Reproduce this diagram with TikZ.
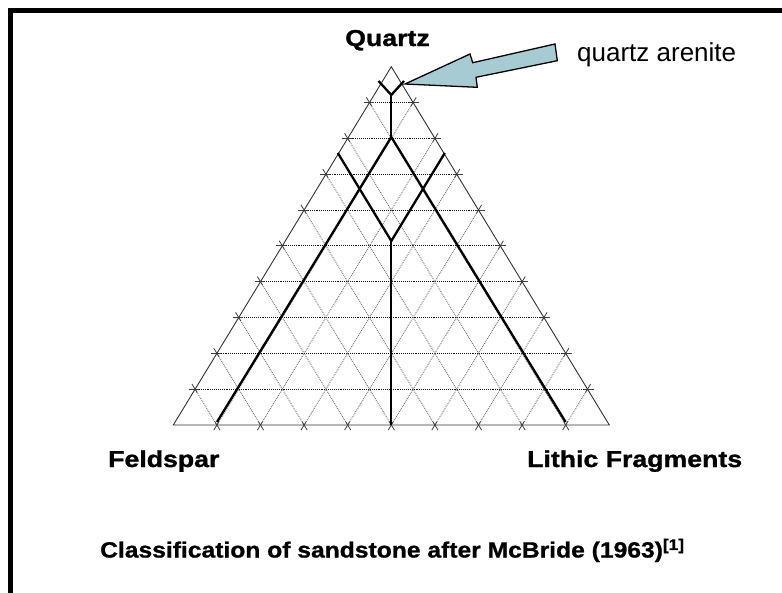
\documentclass[tikz,border=0pt]{standalone}
\usepackage{fontspec}
\setmainfont{Liberation Sans}
\newfontfamily\lblfont[FakeStretch=1.16,FakeBold=1.2]{Liberation Sans}
\newfontfamily\capfont[FakeStretch=1.12,FakeBold=1.0]{Liberation Sans}
\usetikzlibrary{calc}
\definecolor{arrowfill}{HTML}{A7CBD3}
\tikzset{
  edge/.style={draw=black!80, line width=0.9pt},
  hgrid/.style={draw=black!90, line width=0.9pt, densely dotted},
  dgrid/.style={draw=black!55, line width=0.9pt, densely dotted},
  tick/.style={draw=black!75, line width=0.8pt},
  field/.style={draw=black, line width=2.3pt, line join=miter, line cap=butt},
  corner/.style={font=\lblfont\bfseries\fontsize{23}{27}\selectfont, inner sep=0pt},
  note/.style={font=\fontsize{26}{30}\selectfont, inner sep=0pt},
  caption/.style={font=\capfont\bfseries\fontsize{22}{26}\selectfont, inner sep=0pt},
  callout/.style={draw=black, line width=1.3pt, fill=arrowfill, line join=miter}
}
\begin{document}
\begin{tikzpicture}[x=1pt,y=-1pt]
\useasboundingbox (0,0) rectangle (782,592);
\clip (0,0) rectangle (782,592);
\fill[white] (0,0) rectangle (782,592);
% frame
\draw[line width=5pt] (10.4,600) -- (10.4,10.8) -- (790,10.8);
% triangle corners
\coordinate (A) at (391.3,66.7);
\coordinate (F) at (173.3,425);
\coordinate (L) at (609.3,425);
\foreach \i in {1,...,9} {
  \coordinate (P\i) at ($(F)!\i/10!(A)$);
  \coordinate (R\i) at ($(L)!\i/10!(A)$);
  \coordinate (B\i) at ($(F)!\i/10!(L)$);
}
% grid
\foreach \j [evaluate=\j as \k using int(10-\j)] in {1,...,9} {
  \draw[dgrid] (B\j) -- (R\k);
  \draw[dgrid] (B\j) -- (P\j);
  \draw[hgrid] (P\j) -- (R\j);
  % tick marks: grid lines carried a little beyond the edges
  \draw[tick] ($(B\j)!-6pt!(R\k)$) -- ($(B\j)!4pt!(R\k)$);
  \draw[tick] ($(R\k)!-6pt!(B\j)$) -- ($(R\k)!4pt!(B\j)$);
  \draw[tick] ($(B\j)!-6pt!(P\j)$) -- ($(B\j)!4pt!(P\j)$);
  \draw[tick] ($(P\j)!-6pt!(B\j)$) -- ($(P\j)!4pt!(B\j)$);
  \draw[tick] ($(P\j)!-6pt!(R\j)$) -- ($(P\j)!4pt!(R\j)$);
  \draw[tick] ($(R\j)!-6pt!(P\j)$) -- ($(R\j)!4pt!(P\j)$);
}
\draw[edge] (A) -- (F) -- (L) -- cycle;
% classification fields
\coordinate (ya) at (378.5,81);
\coordinate (yb) at (404,81);
\coordinate (yc) at (391.3,95);
\coordinate (top) at (391.3,137);
\coordinate (la) at (217,422);
\coordinate (lb) at (565.6,422);
\coordinate (va) at (337.8,153);
\coordinate (vb) at (444.8,153);
\coordinate (vc) at (391.3,241);
\coordinate (base) at (391.3,425);
\draw[field] (ya) -- (yc) -- (yb);
\draw[field] (yc) -- (top);
\draw[field] (la) -- (top) -- (lb);
\draw[field] (va) -- (vc) -- (vb);
\draw[field] (vc) -- (base);
% callout arrow
\draw[callout] (405,84) -- (470,54) -- (472.7,62.7) -- (555,44) -- (557.3,60.7) -- (476,77.3) -- (477.3,87.3) -- cycle;
% labels
\node[corner, anchor=base] (q) at (387.5,46) {Quartz};
\node[corner, anchor=base west] (f) at (108,467) {Feldspar};
\node[corner, anchor=base west] (l) at (527,467) {Lithic Fragments};
\node[note, anchor=base west] (qa) at (577,61.5) {quartz arenite};
\node[caption, anchor=base west] (cap) at (100,557.5) {Classification of sandstone after McBride (1963)\textsuperscript{[1]}};
\end{tikzpicture}
\end{document}
